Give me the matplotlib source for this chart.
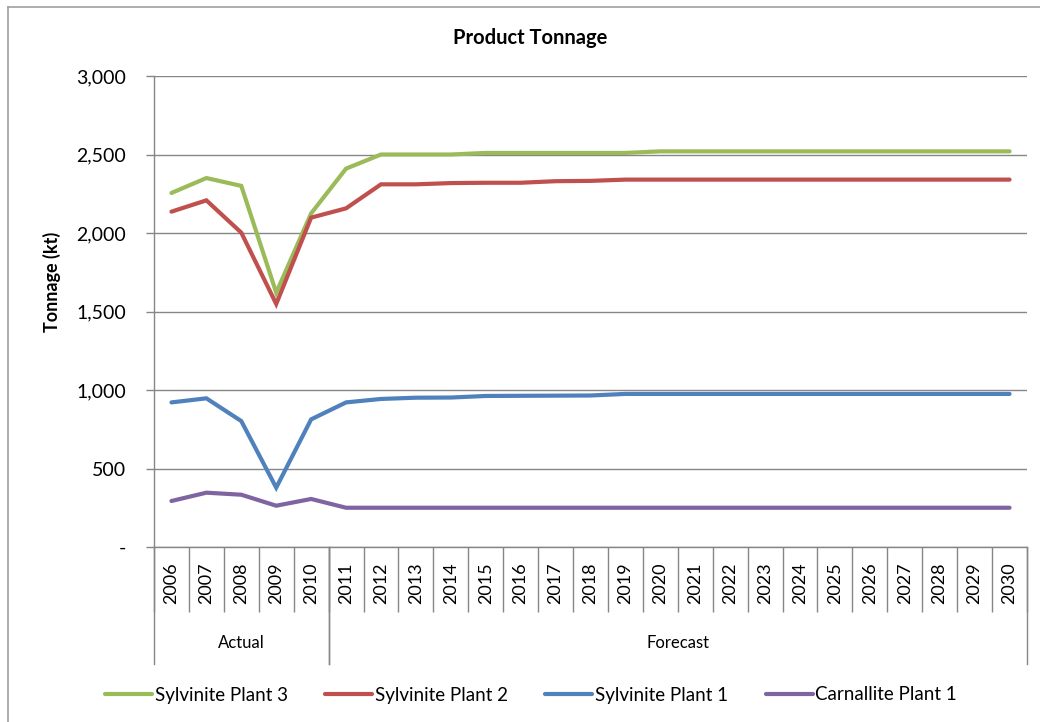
import numpy as np
import matplotlib.pyplot as plt
from matplotlib.lines import Line2D
from matplotlib.ticker import FuncFormatter
import matplotlib.transforms as mtransforms

plt.rcParams['font.family'] = ['Lato', 'DejaVu Sans']

years = [str(y) for y in range(2006, 2031)]
groups = [('Actual', 0, 5), ('Forecast', 5, 25)]

sylvinite_3 = [2255, 2350, 2300, 1620, 2125, 2410, 2500, 2500, 2500, 2510,
               2510, 2510, 2510, 2510, 2520, 2520, 2520, 2520, 2520, 2520,
               2520, 2520, 2520, 2520, 2520]
sylvinite_2 = [2136, 2208, 2002, 1548, 2098, 2157, 2310, 2310, 2318, 2320,
               2320, 2330, 2332, 2340, 2340, 2340, 2340, 2340, 2340, 2340,
               2340, 2340, 2340, 2340, 2340]
sylvinite_1 = [921, 947, 802, 378, 813, 921, 943, 951, 952, 962,
               963, 964, 965, 975, 975, 975, 975, 975, 975, 975,
               975, 975, 975, 975, 975]
carnallite_1 = [293, 346, 333, 263, 306, 250, 250, 250, 250, 250,
                250, 250, 250, 250, 250, 250, 250, 250, 250, 250,
                250, 250, 250, 250, 250]

series = [
    ('Sylvinite Plant 3', sylvinite_3, '#9BBB59'),
    ('Sylvinite Plant 2', sylvinite_2, '#C0504D'),
    ('Sylvinite Plant 1', sylvinite_1, '#4F81BD'),
    ('Carnallite Plant 1', carnallite_1, '#8064A2'),
]

W, H = 1040, 722
fig = plt.figure(figsize=(W / 100, H / 100), dpi=100)
ax = fig.add_axes([154 / W, 1 - 547 / H, (1027 - 154) / W, (547 - 76) / H])

x = np.arange(len(years))
for name, vals, col in series:
    ax.plot(x, vals, color=col, lw=3, label=name, solid_capstyle='round',
            solid_joinstyle='miter')

grid_col = '#868686'
ax.set_xlim(-0.5, len(years) - 0.5)
ax.set_ylim(0, 3000)
ax.set_yticks(np.arange(0, 3001, 500))
ax.yaxis.set_major_formatter(FuncFormatter(lambda v, p: '-' if v == 0 else f'{v:,.0f}'))
ax.yaxis.grid(True, color=grid_col, lw=1)
ax.set_axisbelow(True)
ax.tick_params(axis='y', length=6, width=1, color=grid_col, pad=14,
               labelsize=14, labelcolor='black')

for s in ['top', 'right']:
    ax.spines[s].set_visible(False)
for s in ['left', 'bottom']:
    ax.spines[s].set_color(grid_col)
    ax.spines[s].set_linewidth(1)

# category separators below the axis
ax.set_xticks(np.arange(len(years) + 1) - 0.5)
ax.set_xticklabels([])
ax.tick_params(axis='x', length=47, width=1, color=grid_col)

trans = mtransforms.blended_transform_factory(ax.transData, ax.transAxes)
axes_h = 547 - 76
for i, yr in enumerate(years):
    ax.text(i, -(583 - 547) / axes_h, yr, rotation=90, ha='center', va='center',
            fontsize=13, transform=trans)

for label, start, end in groups:
    for edge in (start, end):
        ax.add_line(Line2D([edge - 0.5, edge - 0.5], [0, -(664 - 547) / axes_h],
                           transform=trans, color=grid_col, lw=1, clip_on=False))
    ax.text((start + end - 1) / 2, -(643 - 547) / axes_h, label, ha='center',
            va='center', fontsize=12, transform=trans)

fig.text(530 / W, 1 - 38 / H, 'Product Tonnage', ha='center', va='center',
         fontsize=14.5, fontweight='bold')
fig.text(52 / W, 1 - 282 / H, 'Tonnage (kt)', ha='center', va='center',
         rotation=90, fontsize=13, fontweight='bold')

fig.legend(loc='center', bbox_to_anchor=(531 / W, 1 - 695 / H), ncol=4,
           frameon=False, fontsize=13.5, handlelength=2.5, columnspacing=2.0,
           handletextpad=0.15)

# chart area border
fig.add_artist(Line2D([8 / W, 1.01], [1 - 7 / H, 1 - 7 / H], transform=fig.transFigure,
                      color='#A0A0A0', lw=1.2))
fig.add_artist(Line2D([8 / W, 8 / W], [1 - 7 / H, -0.01], transform=fig.transFigure,
                      color='#A0A0A0', lw=1.2))

fig.savefig('out.png', dpi=100)
